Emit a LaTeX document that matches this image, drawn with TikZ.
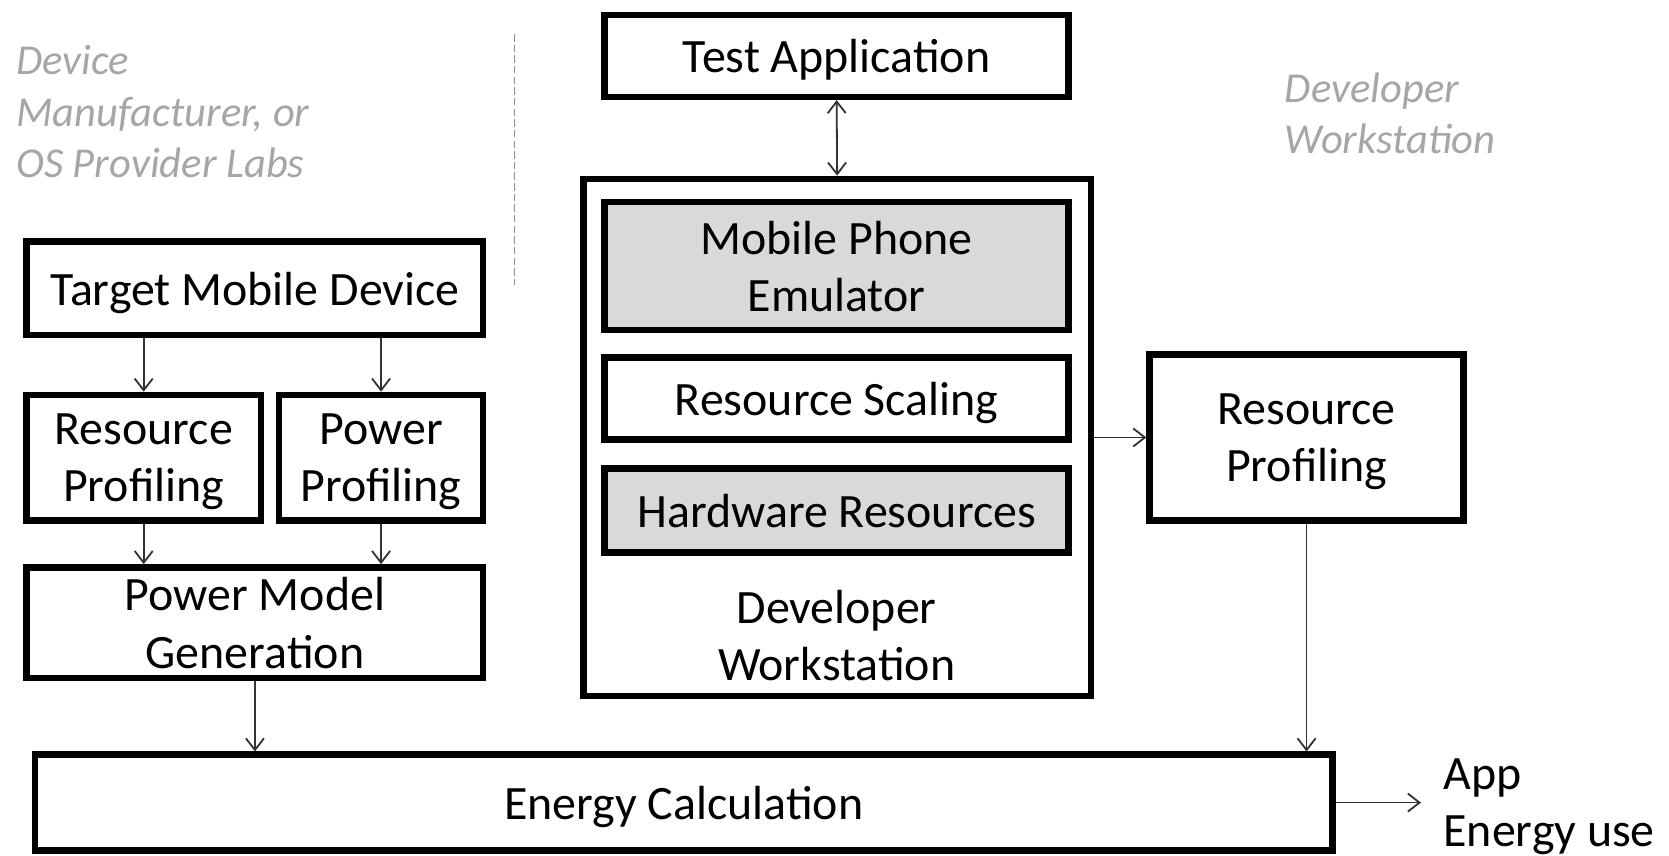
\documentclass[tikz,border=0pt]{standalone}
\usepackage{fontspec}
\setmainfont{Carlito}
\usetikzlibrary{arrows.meta}
\definecolor{boxgray}{HTML}{D9D9D9}
\definecolor{labelgray}{HTML}{A6A6A6}
\definecolor{arrowgray}{HTML}{333333}
\definecolor{sepgray}{HTML}{8C8C8C}
\begin{document}
\begin{tikzpicture}[x=1pt,y=-1pt,
  >={Straight Barb[length=11pt,width=17pt]},
  box/.style={draw=black, line width=6pt, inner sep=0pt, align=center,
              text depth=0pt, font=\fontsize{45}{54}\selectfont},
  graybox/.style={box, fill=boxgray},
  plain/.style={inner sep=0pt, align=center, font=\fontsize{45}{54}\selectfont},
  lab/.style={labelgray, inner sep=0pt, font=\fontsize{40}{48.5}\selectfont\itshape},
  conn/.style={draw=arrowgray, line width=1.7pt},
  sepline/.style={draw=sepgray, line width=1pt, dash pattern=on 7pt off 3pt}]
\useasboundingbox (0,0) rectangle (1568,804);

% corner labels
\node[lab, anchor=base west] (devlab) at (15,70)
  {\begin{tabular}[t]{@{}l@{}}Device\\Manufacturer, or\\OS Provider Labs\end{tabular}};
\node[lab, anchor=base west] (wslab) at (1207,96)
  {\begin{tabular}[t]{@{}l@{}}Developer\\Workstation\end{tabular}};

% separator
\coordinate (sepTop) at (483,32);
\coordinate (sepBot) at (483,268);
\draw[sepline] (sepTop) -- (sepBot);

% left column
\node[box, minimum width=429pt, minimum height=88pt] (tmd) at (239.5,271) {Target Mobile Device};
\node[box, minimum width=220pt, minimum height=118pt] (rpl) at (135,430) {Resource\\Profiling};
\node[box, minimum width=192pt, minimum height=118pt] (pp) at (358,430) {Power\\Profiling};
\node[box, minimum width=429pt, minimum height=104pt] (pmg) at (239.5,585) {Power Model\\Generation};

% middle column
\node[box, minimum width=436pt, minimum height=77pt] (test) at (786,52.5) {Test Application};
\node[box, minimum width=477pt, minimum height=486pt] (ws) at (786.5,411) {};
\node[graybox, minimum width=436pt, minimum height=120pt] (mpe) at (786,250) {Mobile Phone\\Emulator};
\node[box, minimum width=436pt, minimum height=77pt] (rs) at (786,374.5) {Resource Scaling};
\node[graybox, minimum width=436pt, minimum height=79pt] (hw) at (786,479.5) {Hardware Resources};
\node[plain] (wsname) at (786,597) {Developer\\Workstation};

% right column
\node[box, minimum width=295pt, minimum height=156pt] (rpr) at (1227.5,411) {Resource\\Profiling};

% bottom
\node[box, minimum width=1219pt, minimum height=90pt] (en) at (642.5,754) {Energy Calculation};
\coordinate (append) at (1335,754);
\node[plain, anchor=base west] (app) at (1356,742)
  {\fontsize{45}{53}\selectfont\begin{tabular}[t]{@{}l@{}}App\\Energy use\end{tabular}};

% connectors
\draw[conn,<->] (test.south) -- (ws.north);
\draw[conn,->] (tmd.south -| rpl.north) -- (rpl.north);
\draw[conn,->] (tmd.south -| pp.north) -- (pp.north);
\draw[conn,->] (rpl.south) -- (pmg.north -| rpl.south);
\draw[conn,->] (pp.south) -- (pmg.north -| pp.south);
\draw[conn,->] (pmg.south) -- (en.north -| pmg.south);
\draw[conn,->] (ws.east) -- (rpr.west);
\draw[conn,->] (rpr.south) -- (en.north -| rpr.south);
\draw[conn,->] (en.east) -- (append);
\end{tikzpicture}
\end{document}
